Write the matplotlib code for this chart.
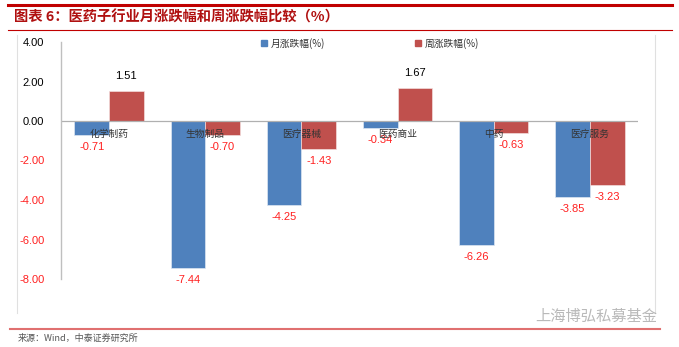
import numpy as np
import matplotlib.pyplot as plt
from matplotlib.lines import Line2D
from matplotlib.patches import Patch

plt.rcParams['font.family'] = ['Noto Sans CJK SC', 'DejaVu Sans']

# 子行业及涨跌幅数据
categories = ['化学制药', '生物制品', '医疗器械', '医药商业', '中药', '医疗服务']
month_chg = [-0.71, -7.44, -4.25, -0.34, -6.26, -3.85]
week_chg = [1.51, -0.70, -1.43, 1.67, -0.63, -3.23]
yticks = [4, 2, 0, -2, -4, -6, -8]

blue = '#4F81BD'
red = '#C0504D'
W, H = 679, 347

fig = plt.figure(figsize=(W / 100, H / 100), dpi=100)

def fx(px):
    return px / W

def fy(py):
    return 1 - py / H

# 标题和装饰线
fig.add_artist(Line2D([fx(8), fx(672)], [fy(5), fy(5)], color='#C00000', lw=2.2))
fig.add_artist(Line2D([fx(8), fx(672)], [fy(30), fy(30)], color='#C00000', lw=0.8))
fig.text(fx(14), fy(17), '图表 6：医药子行业月涨跌幅和周涨跌幅比较（%）', color='#B01010',
         fontsize=10.3, fontweight='bold', va='center', ha='left')
fig.add_artist(Line2D([fx(17), fx(17)], [fy(35), fy(313)], color='#E0E0E0', lw=0.8))
fig.add_artist(Line2D([fx(655), fx(655)], [fy(35), fy(313)], color='#E0E0E0', lw=0.8))
fig.add_artist(Line2D([fx(10), fx(660)], [fy(329), fy(329)], color='#E07070', lw=1.5))
fig.text(fx(18), fy(338), '来源：Wind，中泰证券研究所', fontsize=6.5, color='#555555', va='center')
fig.text(fx(535), fy(316), '上海博弘私募基金', fontsize=11, color='#A8A8A8', va='center', alpha=0.8)

ax = fig.add_axes([fx(61), fy(279), fx(638) - fx(61), fy(42) - fy(279)])
x = np.arange(len(categories))
w = 0.36
b1 = ax.bar(x - w / 2, month_chg, w, color=blue, edgecolor='#DDE6F2', lw=0.5)
b2 = ax.bar(x + w / 2, week_chg, w, color=red, edgecolor='#F2DDDD', lw=0.5)

ax.set_xlim(-0.5, 5.5)
ax.set_ylim(-8, 4)
ax.axhline(0, color='#B0B0B0', lw=0.9)
for s in ['top', 'right', 'bottom']:
    ax.spines[s].set_visible(False)
ax.spines['left'].set_color('#BFBFBF')
ax.spines['left'].set_linewidth(1.0)
ax.set_xticks([])
ax.set_yticks(yticks)
ax.set_yticklabels(['%.2f' % t for t in yticks], fontsize=8, family='Liberation Sans')
ax.tick_params(axis='y', length=0, pad=12)
for lab, t in zip(ax.get_yticklabels(), yticks):
    lab.set_color('#FF2020' if t < 0 else 'black')

# 数据标签
for bars, vals in [(b1, month_chg), (b2, week_chg)]:
    for b, v in zip(bars, vals):
        cx = b.get_x() + b.get_width() / 2
        if v >= 0:
            ax.annotate('%.2f' % v, (cx, v), xytext=(0, 7), textcoords='offset points',
                        ha='center', va='bottom', fontsize=8, family='Liberation Sans')
        else:
            ax.annotate('%.2f' % v, (cx, v), xytext=(0, -5), textcoords='offset points',
                        ha='center', va='top', fontsize=8, color='#FF2020',
                        family='Liberation Sans', annotation_clip=False)

# 类别标签放在零轴下方
for i, c in enumerate(categories):
    ax.text(i, -0.42, c, ha='center', va='top', fontsize=7, color='#333333')

handles = [Patch(color=blue), Patch(color=red)]
ax.legend(handles, ['月涨跌幅(%)', '周涨跌幅(%)'], ncol=2, loc='center',
          bbox_to_anchor=((370 - 61) / (638 - 61), 0.995),
          frameon=False, fontsize=7, handlelength=0.6, handleheight=0.6,
          handletextpad=0.4, columnspacing=9.2, labelcolor='#333333')

fig.savefig('out.png', dpi=100)
